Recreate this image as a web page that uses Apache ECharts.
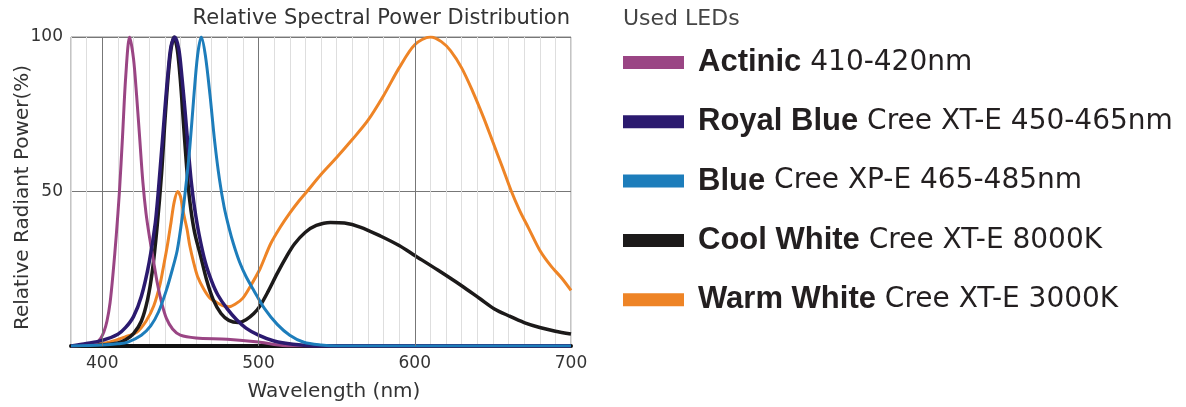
<!DOCTYPE html>
<html>
<head>
<meta charset="utf-8">
<script src="https://cdn.jsdelivr.net/npm/echarts@6/dist/echarts.min.js"></script>
<style>
html,body{margin:0;padding:0;background:#fff;}
#chart{width:1186px;height:407px;}
</style>
</head>
<body>
<div id="chart"></div>
<script>
// ---- data (wavelength nm, relative power %) ----
const seriesNames = ['Actinic', 'Royal Blue', 'Blue', 'Cool White', 'Warm White'];
const seriesDetails = ['410-420nm', 'Cree XT-E 450-465nm', 'Cree XP-E 465-485nm', 'Cree XT-E 8000K', 'Cree XT-E 3000K'];
const seriesColors = ['#9a4584', '#2b1a6f', '#1d7dbb', '#1c1a1a', '#ee8426'];

const actinicWl = [380,390,396,399,401,403,405,407,409,411,413,415,417.5,420,422,424,426,428,430,432,435,438,441,445,450,460,480,500,510,520,700];
const actinicVal = [0,0.3,1,2.5,4.5,8,14,24,36,50,68,87,100,93,81,67,53,43,36,30,21,14,9,5.5,3.5,2.6,2.2,1.3,0.5,0,0];

const royalWl = [380,390,400,410,415,420,425,430,434,437,440,442,444,446.4,449,451,453,455,457,459,462,466,470,474,480,486,492,500,510,522,540,700];
const royalVal = [0,0.8,1.8,3.8,6,9.5,16,27,40,57,76,88,97,100,96,87,76,64,53,45,36,27,21,16.5,12,8.5,5.8,3.5,1.6,0.6,0,0];

const blueWl = [380,400,410,416,425,431,436,441,445,448,451,454,456,458.5,461,463.4,466,469,472,475,478,481,484,488,492,497,504,512,520,529,540,550,700];
const blueVal = [0,0.3,0.7,1.2,3.5,6.5,11,18,25,31,41,54,64,80,94,100,94,81,66,54,45,38.5,33,27,22.5,18,12,7,3.5,1.2,0.3,0,0];

const coolWl = [380,400,410,415,420,425,429,432,435,438,440,442,444,446,448,450,452,454,456,459,463,467,471,476,481,487,492,497,501,506,512,518,523,530,537,546,555,565,578,590,600,615,630,642,651,660,670,680,690,700];
const coolVal = [0,0.3,1,2,4,8,15,24,38,56,72,86,96,100,96,86,72,58,47,37,29,21,15,10.5,8.3,7.6,8.5,10.5,13,17.5,23.5,29,33,36.8,39,40,39.8,38.5,35.6,32.5,29.3,24.5,19.5,15.2,12,9.8,7.6,6,4.8,3.9];

const warmWl = [380,395,405,415,422,428,433,437,439.3,441.5,444,446,448.3,450,452,454.3,456,458.5,461,465,469,473.5,477,481,485,490,495,501,507.7,514,520,526,531,540,550,560,570,580,590,600,610,617,623,630,637,644,650,656,661.5,667,673,680,687,694,700];
const warmVal = [0,0.5,1.3,3,4.4,8,13,20,26,32,40,46.5,50,48.5,43,37.7,32.5,27,22.5,18.4,15.5,14,13.1,12.7,13.5,15.5,19.5,25,33,38.5,43,47,50,55.5,61,66.8,73,81,90,97.5,100,98.5,95.5,90,82.5,74,66,58,50.5,44,38,31,26,22,18];

const majorLines = [400, 500, 600];
const xMin = 380, xMax = 700;

function pairs(wl, val) { return wl.map((w, i) => [w, val[i]]); }

const chart = echarts.init(document.getElementById('chart'));

function lineSeries(idx, wl, val, width) {
  return {
    name: seriesNames[idx],
    type: 'line',
    data: pairs(wl, val),
    smooth: 0.3,
    showSymbol: false,
    symbol: 'none',
    z: 3,
    color: seriesColors[idx],
    lineStyle: { color: seriesColors[idx], width: width }
  };
}

const option = {
  backgroundColor: '#fff',
  animation: false,
  title: [
    { text: 'Relative Spectral Power Distribution', right: 616, top: 8, padding: 0,
      textStyle: { fontFamily: 'DejaVu Sans', fontSize: 21, fontWeight: 'normal', color: '#333' } },
    { text: 'Used LEDs', left: 623, top: 8, padding: 0,
      textStyle: { fontFamily: 'DejaVu Sans', fontSize: 22, fontWeight: 'normal', color: '#444' } }
  ],
  legend: {
    orient: 'vertical', left: 623, top: 47, padding: 0,
    itemGap: 28.3, itemWidth: 61, itemHeight: 13, icon: 'rect',
    selectedMode: false,
    data: seriesNames,
    formatter: function (name) {
      const i = seriesNames.indexOf(name);
      return '{b|' + name + '}{n| ' + seriesDetails[i] + '}';
    },
    textStyle: {
      rich: {
        b: { fontFamily: 'Liberation Sans', fontWeight: 'bold', fontSize: 31, color: '#231f20', lineHeight: 32, padding: [0, 0, 0, 9] },
        n: { fontFamily: 'DejaVu Sans', fontSize: 28, color: '#231f20', lineHeight: 32 }
      }
    }
  },
  grid: { left: 71, right: 615, top: 37, bottom: 60, show: true, borderColor: '#888', borderWidth: 1 },
  xAxis: {
    type: 'value', min: xMin, max: xMax, interval: 10,
    name: 'Wavelength (nm)', nameLocation: 'middle', nameGap: 36,
    nameTextStyle: { fontFamily: 'DejaVu Sans', fontSize: 20, color: '#333', padding: [0, 0, 0, 26] },
    axisLine: { show: true, lineStyle: { color: '#111', width: 4 } },
    axisTick: { show: false },
    axisLabel: {
      fontFamily: 'DejaVu Sans', fontSize: 17, color: '#333', margin: 9,
      formatter: function (v) { return v % 100 === 0 ? String(v) : ''; }
    },
    splitLine: { show: true, lineStyle: { color: '#dedede', width: 1 } }
  },
  yAxis: {
    type: 'value', min: 0, max: 100, interval: 50,
    name: 'Relative Radiant Power(%)', nameLocation: 'middle', nameGap: 38, nameRotate: 90,
    nameMoveOverlap: false,
    nameTextStyle: { fontFamily: 'DejaVu Sans', fontSize: 20, color: '#333', padding: [0, 12, 0, 0] },
    axisLine: { show: false },
    axisTick: { show: false },
    axisLabel: {
      fontFamily: 'DejaVu Sans', fontSize: 17, color: '#333', margin: 8,
      formatter: function (v) { return v === 0 ? '' : String(v); }
    },
    splitLine: { show: true, lineStyle: { color: '#777', width: 1 } }
  },
  series: [
    {
      name: 'major', type: 'line', data: [[xMin, 0]], showSymbol: false, symbol: 'none',
      lineStyle: { opacity: 0 }, z: 1, silent: true,
      markLine: {
        silent: true, symbol: ['none', 'none'], label: { show: false },
        lineStyle: { color: '#777', width: 1, type: 'solid' },
        data: majorLines.map(v => ({ xAxis: v }))
      }
    },
    lineSeries(4, warmWl, warmVal, 3),
    lineSeries(3, coolWl, coolVal, 3.5),
    lineSeries(0, actinicWl, actinicVal, 3),
    lineSeries(1, royalWl, royalVal, 3.5),
    lineSeries(2, blueWl, blueVal, 3)
  ]
};
chart.setOption(option);
</script>
</body>
</html>
